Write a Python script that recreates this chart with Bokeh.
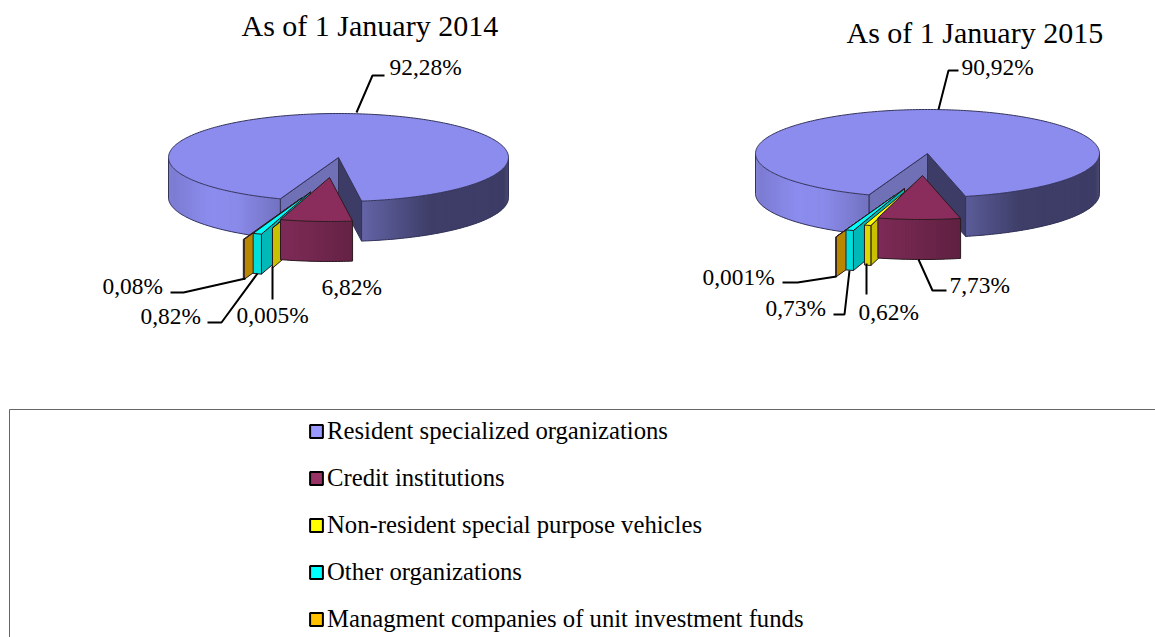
import math
from bokeh.core.properties import value
from bokeh.embed import file_html
from bokeh.models import Range1d, Legend, LegendItem
from bokeh.plotting import figure
from bokeh.resources import INLINE

# ---- data ----
categories = ["Resident specialized organizations", "Credit institutions",
              "Non-resident special purpose vehicles", "Other organizations",
              "Managment companies of unit investment funds"]
shares_2014 = [92.28, 6.82, 0.005, 0.82, 0.08]
shares_2015 = [90.92, 7.73, 0.62, 0.73, 0.001]
labels_2014 = ["92,28%", "6,82%", "0,005%", "0,82%", "0,08%"]
labels_2015 = ["90,92%", "7,73%", "0,62%", "0,73%", "0,001%"]
titles = ["As of 1 January 2014", "As of 1 January 2015"]

# ---- layout and style ----
FONT = "Liberation Serif"
W, H = 1155, 637
legend_fill = ["#9999FF", "#993366", "#FFFF00", "#00FFFF", "#FFC000"]
top_fill = ["#8C8CEE", "#8B2D5C", "#FFFF00", "#00FFFF", "#E0A800"]
radial_fill = ["#7070B6", None, "#C8C000", "#00B8B8", "#B88600"]
main_stops = [(0, "#7A7AD0"), (.12, "#8C8CEE"), (.2, "#8A8AEA"), (.33, "#7272C0"), (.566, "#6464A8"), (.77, "#3E3E68"), (1, "#3C3C66")]
rim_stops = [None,
             [(.38, "#7C2A55"), (.62, "#5E2040")],
             [(0, "#DDD800"), (1, "#DDD800")],
             [(0, "#00DDDD"), (1, "#00DDDD")],
             [(0, "#B88600"), (1, "#B88600")]]
pies = [
    dict(shares=shares_2014, labels=labels_2014, cx=338, cy=157, rx=170, ry=44, depth=40, start=7.8,
         apex=[(338, 157), (329, 177), (321, 185.5), (310, 191.5), (301, 197.5)],
         title_pos=(241, 25),
         label_pos=[(389, 66), (321, 286), (236, 314), (140, 315), (102, 285)],
         leaders=[[(356, 112), (372, 75), (384, 75)], None, [(272, 266), (272, 299)],
                  [(257, 273), (221, 322), (207, 322)], [(245, 278), (183, 292), (170, 292)]]),
    dict(shares=shares_2015, labels=labels_2015, cx=927.5, cy=153, rx=172, ry=44, depth=40, start=12.8,
         apex=[(927, 153), (922, 175), (915, 182.5), (904, 188), (894, 195)],
         title_pos=(846, 32),
         label_pos=[(961, 66), (949, 284), (858, 311), (765, 307), (702, 276)],
         leaders=[[(938, 109), (948, 70), (958, 70)], [(918, 259), (932, 290), (946, 290)],
                  [(866, 263), (866, 294)], [(849, 270), (844, 314), (833, 314)],
                  [(836, 276), (797, 282), (782, 282)]]),
]


def hex2rgb(c):
    return tuple(int(c[i:i + 2], 16) for i in (1, 3, 5))


def shade(stops, u):
    if u <= stops[0][0]:
        return stops[0][1]
    for (u0, c0), (u1, c1) in zip(stops, stops[1:]):
        if u <= u1:
            t = (u - u0) / (u1 - u0)
            a, b = hex2rgb(c0), hex2rgb(c1)
            return "#%02X%02X%02X" % tuple(round(x + (y - x) * t) for x, y in zip(a, b))
    return stops[-1][1]


p = figure(width=W, height=H, output_backend="svg", toolbar_location=None,
           x_range=Range1d(0, W), y_range=Range1d(H, 0), min_border=0,
           x_axis_location=None, y_axis_location=None)
p.grid.visible = False
p.outline_line_color = None
p.background_fill_color = "white"


def angles(a1, a2, step=1.0):
    n = max(1, int(abs(a2 - a1) / step))
    return [a1 + (a2 - a1) * i / n for i in range(n + 1)]


def draw_slice(pie, apex, a1, a2, top, radial, stops, edge):
    ax, ay = apex
    rx, ry, d = pie["rx"], pie["ry"], pie["depth"]
    pt = lambda a: (ax + rx * math.sin(math.radians(a)), ay + ry * math.cos(math.radians(a)))
    # side faces
    for a, visible in ((a1, -math.sin(math.radians(a1)) > 0), (a2, math.sin(math.radians(a2)) > 0)):
        if visible and radial:
            x, y = pt(a)
            col = radial if a == a1 else "#3C3C66"
            p.patch([ax, x, x, ax], [ay, y, y + d, ay + d], fill_color=col, line_color=edge, line_width=1)
    # outer rim, as narrow overlapping strips so that the shading runs along it
    runs, cur = [], []
    for a in angles(a1, a2):
        if math.cos(math.radians(a)) > 0:
            cur.append(a)
        elif cur:
            runs.append(cur)
            cur = []
    if cur:
        runs.append(cur)
    for run in runs:
        xs, ys, cs = [], [], []
        for k, (b0, b1) in enumerate(zip(run, run[1:])):
            b2 = run[min(k + 2, len(run) - 1)]
            (x0, y0), (x1, y1), (x2, y2) = pt(b0), pt(b1), pt(b2)
            xs.append([x0, x1, x2, x2, x1, x0])
            ys.append([y0, y1, y2, y2 + d, y1 + d, y0 + d])
            u = (math.sin(math.radians((b0 + b1) / 2)) + 1) / 2
            cs.append(shade(stops, u))
        if xs:
            p.patches(xs, ys, fill_color=cs, line_color=None)
        tx = [pt(a)[0] for a in run]
        ty = [pt(a)[1] for a in run]
        p.line(tx, [y + d for y in ty], line_color=edge, line_width=1)
        p.line([tx[0], tx[0]], [ty[0], ty[0] + d], line_color=edge, line_width=1)
        p.line([tx[-1], tx[-1]], [ty[-1], ty[-1] + d], line_color=edge, line_width=1)
    # top face
    arc = [pt(a) for a in angles(a1, a2)]
    p.patch([ax] + [q[0] for q in arc], [ay] + [q[1] for q in arc],
            fill_color=top, line_color=edge, line_width=1)


for pie in pies:
    total = sum(pie["shares"])
    sweeps = [v / total * 360 for v in pie["shares"]]
    a = pie["start"]
    spans = [None] * 5
    for i in (1, 2, 3, 4):
        spans[i] = (a, a - sweeps[i])
        a -= sweeps[i]
    spans[0] = (a, a - sweeps[0])
    draw_slice(pie, pie["apex"][0], spans[0][0], spans[0][1], top_fill[0], radial_fill[0], main_stops, "#33335A")
    for i in (4, 3, 2, 1):
        draw_slice(pie, pie["apex"][i], spans[i][0], spans[i][1], top_fill[i], radial_fill[i], rim_stops[i], "#2A1A20")
    # leader lines
    for lead in pie["leaders"]:
        if lead:
            p.line([q[0] for q in lead], [q[1] for q in lead], line_color="black", line_width=2)
    # data labels
    p.text([q[0] for q in pie["label_pos"]], [q[1] for q in pie["label_pos"]], text=pie["labels"],
           text_font=value(FONT), text_font_size="23.4px", text_color="black",
           text_align="left", text_baseline="middle")

p.text([pies[0]["title_pos"][0], pies[1]["title_pos"][0]],
       [pies[0]["title_pos"][1], pies[1]["title_pos"][1]], text=titles,
       text_font=value(FONT), text_font_size="30px", text_color="black",
       text_align="left", text_baseline="middle")

# legend frame
p.line([W + 10, 9, 9], [409, 409, H + 10], line_color="#666666", line_width=1)

# legend
items = []
nan = float("nan")
for name, col in zip(categories, legend_fill):
    r = p.quad(left=[nan], right=[nan], top=[nan], bottom=[nan], fill_color=col, line_color="black", line_width=2)
    items.append(LegendItem(label=name, renderers=[r]))
legend = Legend(items=items, location=(308, 4), orientation="vertical",
                label_text_font=FONT, label_text_font_size="24.7px", label_text_color="black",
                glyph_width=16, glyph_height=16, label_standoff=3, spacing=19,
                padding=0, margin=0, border_line_color=None, background_fill_alpha=0)
p.add_layout(legend, "center")

open("out.html", "w").write(file_html(p, INLINE))
